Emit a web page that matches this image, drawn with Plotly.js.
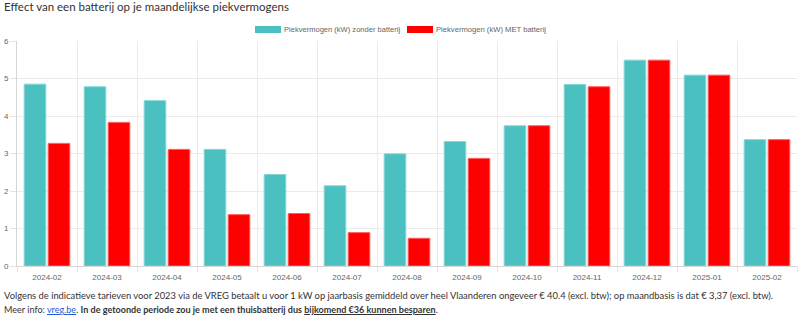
<!DOCTYPE html>
<html><head><meta charset="utf-8">
<script src="https://cdn.plot.ly/plotly-3.0.1.min.js"></script>
<style>
body{margin:0;width:800px;height:321px;overflow:hidden;background:#fff;position:relative;font-family:'Lato','Noto Sans',sans-serif;}
#chart{position:absolute;left:0;top:0;width:800px;height:321px;}
.txt{position:absolute;white-space:nowrap;color:#333;}
#title{left:4px;top:0px;font-size:12.5px;}
.legbox{position:absolute;top:26px;width:26px;height:7px;}
.leglab{position:absolute;top:24px;font-family:'Liberation Sans',Arial,sans-serif;font-size:7.5px;color:#666;white-space:nowrap;line-height:11px;}
#f1{left:4px;top:289px;font-size:9.5px;line-height:14px;}
#f2{left:4px;top:303px;font-size:9.5px;line-height:14px;}
#f2 a{color:#1a5fd6;text-decoration:underline;}
#f2 u{text-decoration:underline;}
</style></head>
<body>
<div id="chart"></div>
<div id="title" class="txt"></div>
<div id="lb0" class="legbox"></div><div id="ll0" class="leglab"></div>
<div id="lb1" class="legbox"></div><div id="ll1" class="leglab"></div>
<div id="f1" class="txt">Volgens de indicatieve tarieven voor 2023 via de VREG betaalt u voor 1 kW op jaarbasis gemiddeld over heel Vlaanderen ongeveer € 40.4 (excl. btw); op maandbasis is dat € 3,37 (excl. btw).</div>
<div id="f2" class="txt">Meer info: <a href="#">vreg.be</a>. <b>In de getoonde periode zou je met een thuisbatterij dus <u>bijkomend €36 kunnen besparen</u></b>.</div>
<script>
const titleText = 'Effect van een batterij op je maandelijkse piekvermogens';
const months = ['2024-02','2024-03','2024-04','2024-05','2024-06','2024-07','2024-08','2024-09','2024-10','2024-11','2024-12','2025-01','2025-02'];
const seriesNames = ['Piekvermogen (kW) zonder batterij','Piekvermogen (kW) MET batterij'];
const zonder = [4.85,4.78,4.41,3.11,2.44,2.14,2.99,3.32,3.74,4.84,5.49,5.09,3.37];
const met    = [3.27,3.83,3.11,1.37,1.40,0.89,0.74,2.87,3.74,4.78,5.49,5.09,3.37];
const yTicks = [0,1,2,3,4,5,6];

const fills = ['#4bc0c0','#ff0000'];
const borders = ['#86d6d6','#ff5c5c'];

document.getElementById('title').textContent = titleText;
const legX = [[255,284],[407,436]];
for (let i=0;i<2;i++){
  const b=document.getElementById('lb'+i); b.style.left=legX[i][0]+'px'; b.style.background=fills[i];
  const l=document.getElementById('ll'+i); l.style.left=legX[i][1]+'px'; l.textContent=seriesNames[i];
}
function fit(id,target){const e=document.getElementById(id);const fs=parseFloat(getComputedStyle(e).fontSize);e.style.fontSize=(fs*target/e.offsetWidth)+'px';}
fit('title',285); fit('f1',770); fit('f2',435); fit('ll0',116); fit('ll1',110);

const traces=[zonder,met].map((v,i)=>({
  type:'bar', x:months, y:v, name:seriesNames[i],
  marker:{color:fills[i], line:{color:borders[i], width:1}},
  hoverinfo:'skip'
}));
const axFont={family:'Liberation Sans, Arial, sans-serif', size:8, color:'#666'};
const layout={
  width:800,height:321,
  margin:{l:17,r:3,t:41,b:55,pad:0},
  paper_bgcolor:'#fff',plot_bgcolor:'#fff',
  showlegend:false,
  bargap:0.2,bargroupgap:0.1,barmode:'group',
  xaxis:{type:'category',tickson:'boundaries',ticks:'outside',ticklen:5,tickcolor:'#e3e3e3',
    showgrid:true,gridcolor:'#ebebeb',showline:true,linecolor:'#d6d6d6',linewidth:1,
    tickfont:axFont,ticklabelstandoff:3,fixedrange:true},
  yaxis:{range:[0,6],tickvals:yTicks,ticks:'outside',ticklen:6,tickcolor:'#e3e3e3',
    showgrid:true,gridcolor:'#ebebeb',showline:true,linecolor:'#d6d6d6',zeroline:false,
    tickfont:axFont,fixedrange:true}
};
Plotly.newPlot('chart',traces,layout,{staticPlot:true,displayModeBar:false});
</script>
</body></html>
